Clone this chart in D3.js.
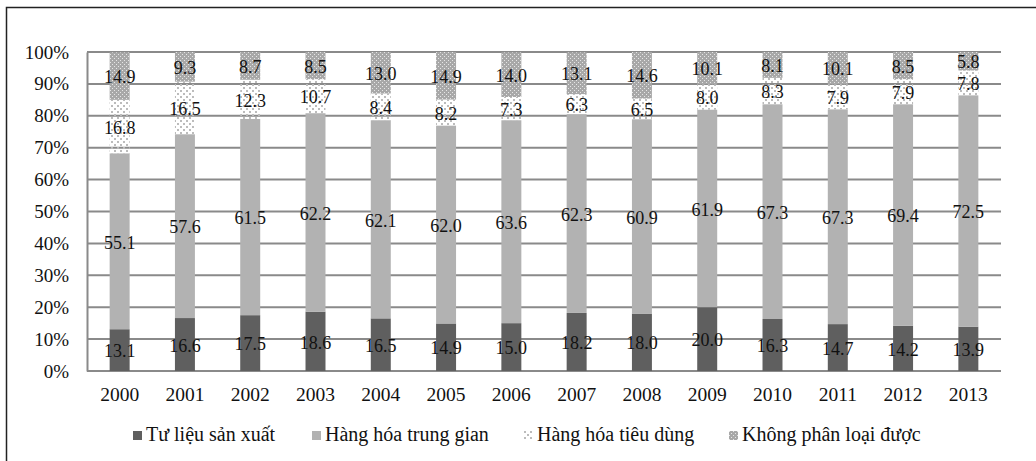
<!DOCTYPE html>
<html>
<head>
<meta charset="utf-8">
<script src="https://cdn.jsdelivr.net/npm/d3@7"></script>
<style>
  html, body { margin: 0; padding: 0; background: #fff; }
  svg text { font-family: "Liberation Serif", "Times New Roman", serif; fill: #111; }
</style>
</head>
<body>
<svg id="chart" width="1036" height="461"></svg>
<script>
// Export structure by product group, share of total (%)
const years = ["2000","2001","2002","2003","2004","2005","2006","2007","2008","2009","2010","2011","2012","2013"];
const seriesNames = ["Tư liệu sản xuất", "Hàng hóa trung gian", "Hàng hóa tiêu dùng", "Không phân loại được"];
const capitalGoods      = [13.1, 16.6, 17.5, 18.6, 16.5, 14.9, 15.0, 18.2, 18.0, 20.0, 16.3, 14.7, 14.2, 13.9];
const intermediateGoods = [55.1, 57.6, 61.5, 62.2, 62.1, 62.0, 63.6, 62.3, 60.9, 61.9, 67.3, 67.3, 69.4, 72.5];
const consumerGoods     = [16.8, 16.5, 12.3, 10.7, 8.4, 8.2, 7.3, 6.3, 6.5, 8.0, 8.3, 7.9, 7.9, 7.8];
const unclassified      = [14.9, 9.3, 8.7, 8.5, 13.0, 14.9, 14.0, 13.1, 14.6, 10.1, 8.1, 10.1, 8.5, 5.8];
const yTicks = [0, 10, 20, 30, 40, 50, 60, 70, 80, 90, 100];

const rows = years.map((y, i) => ({
  year: y,
  [seriesNames[0]]: capitalGoods[i],
  [seriesNames[1]]: intermediateGoods[i],
  [seriesNames[2]]: consumerGoods[i],
  [seriesNames[3]]: unclassified[i]
}));

const svg = d3.select("#chart");

// fills: two solid greys and two pattern fills
const defs = svg.append("defs");
const dots = defs.append("pattern").attr("id", "pDots")
  .attr("patternUnits", "userSpaceOnUse").attr("width", 6).attr("height", 6);
dots.append("rect").attr("x", 0).attr("y", 0).attr("width", 2).attr("height", 2).attr("fill", "#bcbcbc");
dots.append("rect").attr("x", 3).attr("y", 3).attr("width", 2).attr("height", 2).attr("fill", "#bcbcbc");

const checks = defs.append("pattern").attr("id", "pChecks")
  .attr("patternUnits", "userSpaceOnUse").attr("width", 4).attr("height", 4);
checks.append("rect").attr("width", 4).attr("height", 4).attr("fill", "#a8a8a8");
checks.append("rect").attr("x", 0).attr("y", 0).attr("width", 1).attr("height", 1).attr("fill", "#e6e6e6");
checks.append("rect").attr("x", 2).attr("y", 2).attr("width", 1).attr("height", 1).attr("fill", "#e6e6e6");

const fills = ["#5f5f5f", "#b2b2b2", "url(#pDots)", "url(#pChecks)"];

// outer frame
svg.append("rect").attr("x", 6.5).attr("y", 7.5).attr("width", 1100).attr("height", 500)
  .attr("fill", "none").attr("stroke", "#222").attr("stroke-width", 1.5);

const plot = { left: 87, right: 1001, top: 52, bottom: 371 };

const x = d3.scaleBand().domain(years).range([plot.left, plot.right])
  .paddingInner(0.694).paddingOuter(0.347);
const y = d3.scaleLinear().domain([0, 100]).range([plot.bottom, plot.top]);

// gridlines
svg.append("g").selectAll("line").data(yTicks.filter(d => d > 0)).join("line")
  .attr("x1", plot.left).attr("x2", plot.right)
  .attr("y1", d => y(d)).attr("y2", d => y(d))
  .attr("stroke", "#8a8a8a").attr("stroke-width", 2);

// y axis
const yAxis = svg.append("g").attr("transform", `translate(${plot.left},0)`)
  .call(d3.axisLeft(y).tickValues(yTicks).tickFormat(d => d + "%").tickSize(0).tickPadding(18));
yAxis.select(".domain").attr("stroke", "#8a8a8a").attr("stroke-width", 2);
yAxis.selectAll("text").attr("font-size", 19).attr("fill", "#111")
  .attr("font-family", "Liberation Serif");

// x axis
const xAxis = svg.append("g").attr("transform", `translate(0,${plot.bottom})`)
  .call(d3.axisBottom(x).tickSize(0).tickPadding(16));
xAxis.select(".domain").attr("stroke", "#8a8a8a").attr("stroke-width", 2)
  .attr("d", `M${plot.left},0H${plot.right}`);
xAxis.selectAll("text").attr("font-size", 19.5).attr("fill", "#111")
  .attr("font-family", "Liberation Serif");

// stacked bars
const stacked = d3.stack().keys(seriesNames)(rows);
const layers = svg.append("g").selectAll("g").data(stacked).join("g")
  .attr("fill", (d, i) => fills[i]);
layers.selectAll("rect").data(d => d).join("rect")
  .attr("x", d => x(d.data.year))
  .attr("width", x.bandwidth())
  .attr("y", d => y(d[1]))
  .attr("height", d => y(d[0]) - y(d[1]));

// value labels, centred in each segment
const labels = svg.append("g");
stacked.forEach(layer => {
  labels.selectAll(null).data(layer).join("text")
    .attr("x", d => x(d.data.year) + x.bandwidth() / 2)
    .attr("y", d => y((d[0] + d[1]) / 2))
    .attr("dy", "0.4em")
    .attr("text-anchor", "middle")
    .attr("font-size", 18)
    .text(d => d.data[layer.key].toFixed(1));
});

// legend
const legendX = [133, 312, 524, 729];
const legend = svg.append("g").selectAll("g").data(seriesNames).join("g")
  .attr("transform", (d, i) => `translate(${legendX[i]},431)`);
legend.append("rect").attr("width", 9).attr("height", 9)
  .attr("fill", (d, i) => fills[i]);
legend.append("text").attr("x", 13).attr("y", 10)
  .attr("font-size", 20).text(d => d);
</script>
</body>
</html>
